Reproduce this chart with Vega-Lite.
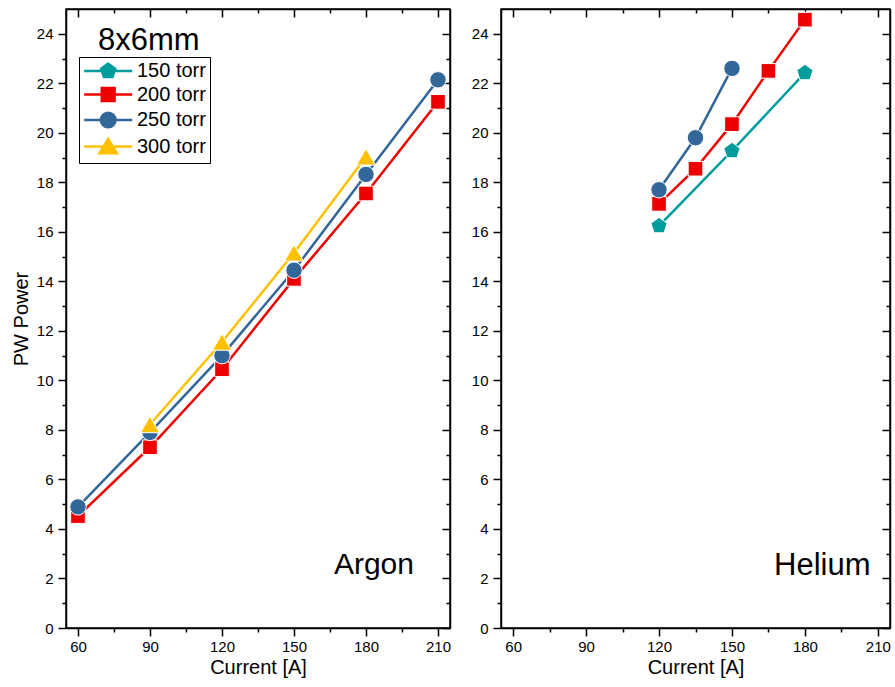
{
  "$schema": "https://vega.github.io/schema/vega-lite/v6.json",
  "padding": {"left": 10, "top": 7, "right": 0, "bottom": 0},
  "spacing": 18,
  "config": {
    "font": "Liberation Sans",
    "view": {"stroke": "black", "strokeWidth": 1.5},
    "axis": {
      "labelFont": "Liberation Sans", "labelFontSize": 15, "labelColor": "black",
      "titleFont": "Liberation Sans", "titleFontSize": 20, "titleFontWeight": "normal", "titleColor": "black",
      "domainColor": "black", "domainWidth": 1.5, "tickColor": "black", "tickWidth": 1.5, "grid": false
    }
  },
  "datasets": {
    "d": [
      {"gas": "Argon", "torr": "200 torr", "current": 60, "power": 4.52},
      {"gas": "Argon", "torr": "200 torr", "current": 90, "power": 7.3},
      {"gas": "Argon", "torr": "200 torr", "current": 120, "power": 10.45},
      {"gas": "Argon", "torr": "200 torr", "current": 150, "power": 14.1},
      {"gas": "Argon", "torr": "200 torr", "current": 180, "power": 17.55},
      {"gas": "Argon", "torr": "200 torr", "current": 210, "power": 21.25},
      {"gas": "Argon", "torr": "250 torr", "current": 60, "power": 4.89},
      {"gas": "Argon", "torr": "250 torr", "current": 90, "power": 7.9},
      {"gas": "Argon", "torr": "250 torr", "current": 120, "power": 11.0},
      {"gas": "Argon", "torr": "250 torr", "current": 150, "power": 14.45},
      {"gas": "Argon", "torr": "250 torr", "current": 180, "power": 18.32},
      {"gas": "Argon", "torr": "250 torr", "current": 210, "power": 22.14},
      {"gas": "Argon", "torr": "300 torr", "current": 90, "power": 8.22},
      {"gas": "Argon", "torr": "300 torr", "current": 120, "power": 11.55},
      {"gas": "Argon", "torr": "300 torr", "current": 150, "power": 15.15},
      {"gas": "Argon", "torr": "300 torr", "current": 180, "power": 19.03},
      {"gas": "Helium", "torr": "150 torr", "current": 120, "power": 16.24},
      {"gas": "Helium", "torr": "150 torr", "current": 150, "power": 19.27},
      {"gas": "Helium", "torr": "150 torr", "current": 180, "power": 22.42},
      {"gas": "Helium", "torr": "200 torr", "current": 120, "power": 17.13},
      {"gas": "Helium", "torr": "200 torr", "current": 135, "power": 18.55},
      {"gas": "Helium", "torr": "200 torr", "current": 150, "power": 20.35},
      {"gas": "Helium", "torr": "200 torr", "current": 165, "power": 22.5},
      {"gas": "Helium", "torr": "200 torr", "current": 180, "power": 24.57},
      {"gas": "Helium", "torr": "250 torr", "current": 120, "power": 17.7},
      {"gas": "Helium", "torr": "250 torr", "current": 135, "power": 19.8},
      {"gas": "Helium", "torr": "250 torr", "current": 150, "power": 22.6}
    ]
  },
  "hconcat": [
    {
      "width": 384, "height": 619,
      "data": {"name": "d"},
      "transform": [{"filter": "datum.gas === 'Argon'"}],
      "resolve": {"axis": {"x": "independent", "y": "independent"}},
      "layer": [
        {
          "mark": {"type": "line", "strokeWidth": 2.5},
          "encoding": {
            "x": {"field": "current", "type": "quantitative",
              "scale": {"domain": [55, 215], "nice": false, "zero": false},
              "axis": {"orient": "bottom", "title": "Current [A]", "values": [60, 75, 90, 105, 120, 135, 150, 165, 180, 195, 210],
                "labelExpr": "datum.value % 30 === 0 ? datum.label : ''",
                "labelFontSize": 15, "titleFontSize": 20, "titleFontWeight": "normal",
                "tickSize": {"condition": {"test": "datum.value % 30 === 0", "value": 8}, "value": 4},
                "labelPadding": 3, "titlePadding": 3}},
            "y": {"field": "power", "type": "quantitative",
              "scale": {"domain": [0, 25], "nice": false},
              "axis": {"orient": "left", "title": "PW Power", "values": [0,1,2,3,4,5,6,7,8,9,10,11,12,13,14,15,16,17,18,19,20,21,22,23,24],
                "labelExpr": "datum.value % 2 === 0 ? datum.label : ''",
                "labelFontSize": 15, "titleFontSize": 20, "titleFontWeight": "normal",
                "tickSize": {"condition": {"test": "datum.value % 2 === 0", "value": 8}, "value": 4},
                "labelPadding": 5, "titlePadding": 5}},
            "color": {"field": "torr", "type": "nominal",
              "scale": {"domain": ["300 torr", "250 torr", "200 torr", "150 torr"], "range": ["#ffc000", "#336699", "#ee0000", "#009b9b"]},
              "legend": null}
          }
        },
        {
          "transform": [{"filter": "datum.torr === '200 torr'"}],
          "mark": {"type": "point", "shape": "square", "filled": true, "fill": "#ee0000", "stroke": "white", "strokeWidth": 1, "size": 215, "opacity": 1},
          "encoding": {
            "x": {"field": "current", "type": "quantitative",
              "axis": {"orient": "top", "title": null, "labels": false, "values": [60, 75, 90, 105, 120, 135, 150, 165, 180, 195, 210],
                "tickSize": {"condition": {"test": "datum.value % 30 === 0", "value": -8}, "value": -4}}},
            "y": {"field": "power", "type": "quantitative",
              "axis": {"orient": "right", "title": null, "labels": false, "values": [0,1,2,3,4,5,6,7,8,9,10,11,12,13,14,15,16,17,18,19,20,21,22,23,24],
                "tickSize": {"condition": {"test": "datum.value % 2 === 0", "value": -8}, "value": -4}}}
          }
        },
        {
          "transform": [{"filter": "datum.torr === '250 torr'"}],
          "mark": {"type": "point", "shape": "circle", "filled": true, "fill": "#336699", "stroke": "white", "strokeWidth": 1, "size": 270, "opacity": 1},
          "encoding": {
            "x": {"field": "current", "type": "quantitative", "axis": null},
            "y": {"field": "power", "type": "quantitative", "axis": null}
          }
        },
        {
          "transform": [{"filter": "datum.torr === '300 torr'"}],
          "mark": {"type": "point", "shape": "triangle-up", "filled": true, "fill": "#ffc000", "stroke": "white", "strokeWidth": 1, "size": 360, "opacity": 1},
          "encoding": {
            "x": {"field": "current", "type": "quantitative", "axis": null},
            "y": {"field": "power", "type": "quantitative", "axis": null}
          }
        },
        {
          "data": {"values": [{}]},
          "mark": {"type": "text", "text": "8x6mm", "fontSize": 31, "align": "left", "baseline": "alphabetic", "color": "black"},
          "encoding": {
            "x": {"datum": 68.3, "type": "quantitative", "axis": null},
            "y": {"datum": 23.35, "type": "quantitative", "axis": null}
          }
        },
        {
          "data": {"values": [{}]},
          "mark": {"type": "text", "text": "Argon", "fontSize": 30, "align": "right", "baseline": "alphabetic", "color": "black"},
          "encoding": {
            "x": {"datum": 200, "type": "quantitative", "axis": null},
            "y": {"datum": 2.2, "type": "quantitative", "axis": null}
          }
        },
        {
          "transform": [{"filter": "false"}],
          "mark": {"type": "point", "filled": true, "size": 256, "opacity": 1},
          "encoding": {
            "x": {"field": "current", "type": "quantitative", "axis": null},
            "y": {"field": "power", "type": "quantitative", "axis": null},
            "fill": {"field": "torr", "type": "nominal",
              "scale": {"domain": ["150 torr", "200 torr", "250 torr", "300 torr"], "range": ["#009b9b", "#ee0000", "#336699", "#ffc000"]},
              "legend": {"orient": "none", "legendX": 13, "legendY": 48, "title": null, "strokeColor": "black", "fillColor": "white", "padding": 4,
                "labelFontSize": 20, "labelFont": "Liberation Sans", "labelColor": "black", "labelOffset": 34, "rowPadding": 0.5,
                "symbolOpacity": 1, "symbolStrokeWidth": 2.5, "symbolSize": 256}},
            "stroke": {"field": "torr", "type": "nominal",
              "scale": {"domain": ["150 torr", "200 torr", "250 torr", "300 torr"], "range": ["#009b9b", "#ee0000", "#336699", "#ffc000"]},
              "legend": {"orient": "none", "legendX": 13, "legendY": 48, "title": null, "strokeColor": "black", "fillColor": "white", "padding": 4,
                "labelFontSize": 20, "labelFont": "Liberation Sans", "labelColor": "black", "labelOffset": 34, "rowPadding": 0.5,
                "symbolOpacity": 1, "symbolStrokeWidth": 2.5, "symbolSize": 256}},
            "shape": {"field": "torr", "type": "nominal",
              "scale": {"domain": ["150 torr", "200 torr", "250 torr", "300 torr"],
                "range": [
                  "M-1.1,0H1.025M2.775,0H4.9M1.9,-0.92L2.775,-0.284L2.441,0.744L1.359,0.744L1.025,-0.284Z",
                  "M-1.1,0H1.1M2.7,0H4.9M1.1,-0.8H2.7V0.8H1.1Z",
                  "M-1.1,0H0.98M2.82,0H4.9M0.98,0A0.92,0.92 0 1,1 2.82,0A0.92,0.92 0 1,1 0.98,0Z",
                  "M-1.1,0H1.32M2.48,0H4.9M1.9,-0.95L3.0,0.85L0.8,0.85Z"
                ]},
              "legend": {"orient": "none", "legendX": 13, "legendY": 48, "title": null, "strokeColor": "black", "fillColor": "white", "padding": 4,
                "labelFontSize": 20, "labelFont": "Liberation Sans", "labelColor": "black", "labelOffset": 34, "rowPadding": 0.5,
                "symbolOpacity": 1, "symbolStrokeWidth": 2.5, "symbolSize": 256}}
          }
        }
      ]
    },
    {
      "width": 389, "height": 619,
      "data": {"name": "d"},
      "transform": [{"filter": "datum.gas === 'Helium'"}],
      "resolve": {"axis": {"x": "independent", "y": "independent"}},
      "layer": [
        {
          "mark": {"type": "line", "strokeWidth": 2.5},
          "encoding": {
            "x": {"field": "current", "type": "quantitative",
              "scale": {"domain": [55, 215], "nice": false, "zero": false},
              "axis": {"orient": "bottom", "title": "Current [A]", "values": [60, 75, 90, 105, 120, 135, 150, 165, 180, 195, 210],
                "labelExpr": "datum.value % 30 === 0 ? datum.label : ''",
                "labelFontSize": 15, "titleFontSize": 20, "titleFontWeight": "normal",
                "tickSize": {"condition": {"test": "datum.value % 30 === 0", "value": 8}, "value": 4},
                "labelPadding": 3, "titlePadding": 3}},
            "y": {"field": "power", "type": "quantitative",
              "scale": {"domain": [0, 25], "nice": false},
              "axis": {"orient": "left", "title": null, "values": [0,1,2,3,4,5,6,7,8,9,10,11,12,13,14,15,16,17,18,19,20,21,22,23,24],
                "labelExpr": "datum.value % 2 === 0 ? datum.label : ''",
                "labelFontSize": 15,
                "tickSize": {"condition": {"test": "datum.value % 2 === 0", "value": 8}, "value": 4},
                "labelPadding": 5}},
            "color": {"field": "torr", "type": "nominal",
              "scale": {"domain": ["300 torr", "250 torr", "200 torr", "150 torr"], "range": ["#ffc000", "#336699", "#ee0000", "#009b9b"]},
              "legend": null}
          }
        },
        {
          "transform": [{"filter": "datum.torr === '200 torr'"}],
          "mark": {"type": "point", "shape": "square", "filled": true, "fill": "#ee0000", "stroke": "white", "strokeWidth": 1, "size": 215, "opacity": 1},
          "encoding": {
            "x": {"field": "current", "type": "quantitative",
              "axis": {"orient": "top", "title": null, "labels": false, "values": [60, 75, 90, 105, 120, 135, 150, 165, 180, 195, 210],
                "tickSize": {"condition": {"test": "datum.value % 30 === 0", "value": -8}, "value": -4}}},
            "y": {"field": "power", "type": "quantitative",
              "axis": {"orient": "right", "title": null, "labels": false, "values": [0,1,2,3,4,5,6,7,8,9,10,11,12,13,14,15,16,17,18,19,20,21,22,23,24],
                "tickSize": {"condition": {"test": "datum.value % 2 === 0", "value": -8}, "value": -4}}}
          }
        },
        {
          "transform": [{"filter": "datum.torr === '150 torr'"}],
          "mark": {"type": "point", "shape": "M0,-1L0.951,-0.309L0.588,0.809L-0.588,0.809L-0.951,-0.309Z", "filled": true, "fill": "#009b9b", "stroke": "white", "strokeWidth": 1, "size": 290, "opacity": 1},
          "encoding": {
            "x": {"field": "current", "type": "quantitative", "axis": null},
            "y": {"field": "power", "type": "quantitative", "axis": null}
          }
        },
        {
          "transform": [{"filter": "datum.torr === '250 torr'"}],
          "mark": {"type": "point", "shape": "circle", "filled": true, "fill": "#336699", "stroke": "white", "strokeWidth": 1, "size": 270, "opacity": 1},
          "encoding": {
            "x": {"field": "current", "type": "quantitative", "axis": null},
            "y": {"field": "power", "type": "quantitative", "axis": null}
          }
        },
        {
          "data": {"values": [{}]},
          "mark": {"type": "text", "text": "Helium", "fontSize": 31, "align": "right", "baseline": "alphabetic", "color": "black"},
          "encoding": {
            "x": {"datum": 207, "type": "quantitative", "axis": null},
            "y": {"datum": 2.15, "type": "quantitative", "axis": null}
          }
        }
      ]
    }
  ]
}
